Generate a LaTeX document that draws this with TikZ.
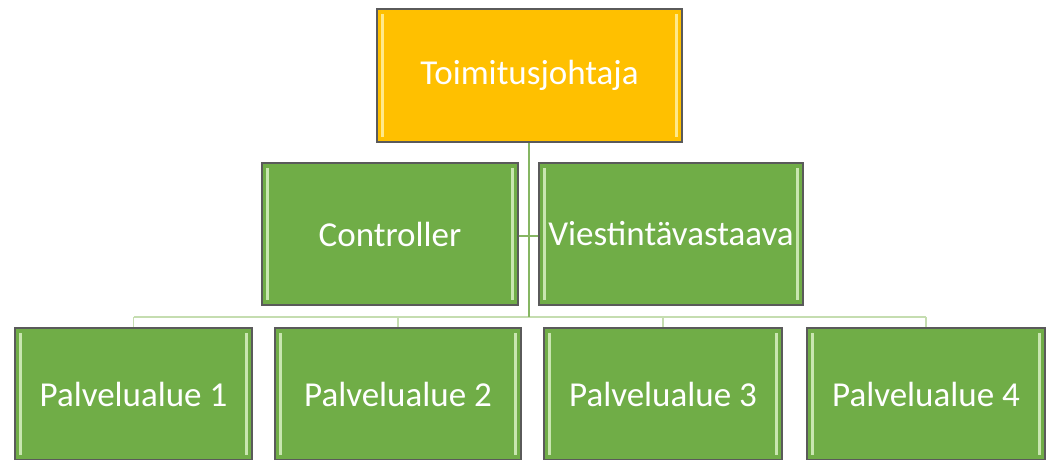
\documentclass[tikz,border=0pt]{standalone}
\usepackage{fontspec}
\setmainfont{Carlito}
\usetikzlibrary{calc}
\definecolor{gold}{HTML}{FFC000}
\definecolor{goldhi}{HTML}{FFE98A}
\definecolor{grn}{HTML}{70AD47}
\definecolor{grnhi}{HTML}{C9E6B0}
\definecolor{edge}{HTML}{5A5A5A}
\definecolor{conndark}{HTML}{86B663}
\definecolor{connlight}{HTML}{C5DDB0}
\tikzset{
  box/.style={draw=edge, line width=1.2pt, text=white, inner sep=0pt,
    font=\fontsize{35}{40}\selectfont},
  bevel/.style={path picture={
    \fill[#1] ($(path picture bounding box.north west)+(4pt,-5pt)$) rectangle ($(path picture bounding box.south west)+(7pt,5pt)$);
    \fill[#1] ($(path picture bounding box.north east)+(-7pt,-5pt)$) rectangle ($(path picture bounding box.south east)+(-4pt,5pt)$);
  }},
  goldbox/.style={box, fill=gold, bevel=goldhi},
  greenbox/.style={box, fill=grn, bevel=grnhi},
  mainconn/.style={draw=conndark, line width=1.8pt},
  busconn/.style={draw=connlight, line width=1.8pt}
}
\begin{document}
\begin{tikzpicture}[x=1pt,y=-1pt]
\useasboundingbox (0,0) rectangle (1048,459);
\fill[white] (0,0) rectangle (1048,459);
\clip (0,0) rectangle (1048,459);
% connectors
\coordinate (bus) at (529,317);
\coordinate (mid) at (529,236);
\node[goldbox, minimum width=305pt, minimum height=133pt] (top) at (529.5,75.5) {};
\node[greenbox, minimum width=256pt, minimum height=142pt] (ctrl) at (390,234) {};
\node[greenbox, minimum width=264pt, minimum height=142pt] (viest) at (671,234) {};
\node[greenbox, minimum width=237pt, minimum height=132pt] (p1) at (133.5,394) {};
\node[greenbox, minimum width=246pt, minimum height=132pt] (p2) at (398,394) {};
\node[greenbox, minimum width=238pt, minimum height=132pt] (p3) at (663,394) {};
\node[greenbox, minimum width=238pt, minimum height=132pt] (p4) at (926,394) {};
\draw[busconn] (p1.north |- bus) -- (p4.north |- bus);
\draw[busconn] (p1.north |- bus) -- (p1.north);
\draw[busconn] (p2.north |- bus) -- (p2.north);
\draw[busconn] (p3.north |- bus) -- (p3.north);
\draw[busconn] (p4.north |- bus) -- (p4.north);
\draw[mainconn] (top.south -| mid) -- (bus);
\draw[mainconn] (ctrl.east |- mid) -- (viest.west |- mid);
% texts
\node[text=white, font=\fontsize{35}{40}\selectfont] (ttop) at (top.center) {Toimitusjohtaja};
\node[text=white, font=\fontsize{35}{40}\selectfont] (tctrl) at (ctrl.center) {Controller};
\node[text=white, font=\fontsize{35}{40}\selectfont] (tviest) at (viest.center) {Viestintävastaava};
\node[text=white, font=\fontsize{35}{40}\selectfont] (tp1) at (p1.center) {Palvelualue 1};
\node[text=white, font=\fontsize{35}{40}\selectfont] (tp2) at (p2.center) {Palvelualue 2};
\node[text=white, font=\fontsize{35}{40}\selectfont] (tp3) at (p3.center) {Palvelualue 3};
\node[text=white, font=\fontsize{35}{40}\selectfont] (tp4) at (p4.center) {Palvelualue 4};
\end{tikzpicture}
\end{document}
